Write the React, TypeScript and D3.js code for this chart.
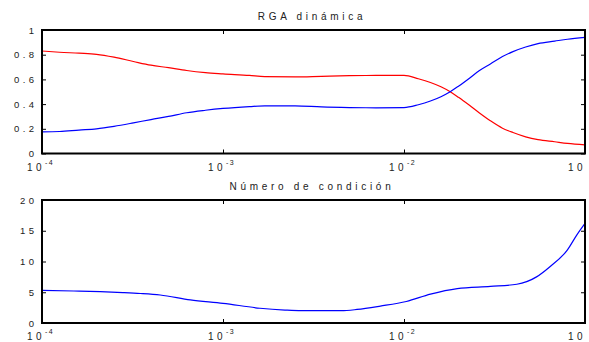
import React, { useEffect, useRef } from "react";
import * as d3 from "d3";

// frequency grid (rad/s), shared by the curves
const freq = [
  1e-4, 1.25e-4, 1.6e-4, 2e-4, 2.5e-4, 3.2e-4, 4e-4, 5e-4, 6.3e-4, 8e-4,
  1e-3, 1.4e-3, 1.7e-3, 2.5e-3, 3.5e-3, 5e-3, 7e-3, 1e-2, 1.2e-2, 1.4e-2,
  1.6e-2, 1.8e-2, 2e-2, 2.3e-2, 2.6e-2, 3e-2, 3.5e-2, 4e-2, 4.7e-2, 5.5e-2,
  6.8e-2, 8e-2, 1e-1,
];

const rgaRed = [
  0.83, 0.82, 0.812, 0.803, 0.78, 0.745, 0.715, 0.695, 0.672, 0.655,
  0.645, 0.632, 0.622, 0.62, 0.625, 0.63, 0.632, 0.632, 0.605, 0.575,
  0.54, 0.5, 0.455, 0.39, 0.33, 0.265, 0.205, 0.17, 0.135, 0.112,
  0.095, 0.082, 0.07,
];

const rgaBlue = [
  0.175, 0.178, 0.19, 0.2, 0.22, 0.248, 0.275, 0.3, 0.33, 0.35,
  0.365, 0.38, 0.386, 0.386, 0.377, 0.372, 0.37, 0.372, 0.395, 0.425,
  0.46, 0.5, 0.545, 0.61, 0.67, 0.725, 0.785, 0.825, 0.862, 0.89,
  0.91, 0.925, 0.94,
];

const condFreq = [
  1e-4, 1.5e-4, 2.1e-4, 2.8e-4, 3.5e-4, 4.5e-4, 6.6e-4, 1e-3, 1.6e-3,
  2.2e-3, 2.7e-3, 3.5e-3, 4.5e-3, 5.5e-3, 7.4e-3, 1.03e-2, 1.4e-2,
  1.97e-2, 3e-2, 4.2e-2, 5.4e-2, 6.4e-2, 8e-2, 9e-2, 1e-1,
];

const condNum = [
  5.3, 5.2, 5.1, 4.95, 4.8, 4.55, 3.75, 3.2, 2.4,
  2.1, 2.0, 2.0, 2.0, 2.2, 2.75, 3.5, 4.7,
  5.6, 5.95, 6.3, 7.5, 9.15, 11.9, 14.3, 16.2,
];

const xTicks = [1e-4, 1e-3, 1e-2, 1e-1];
const rgaTicks = [0, 0.2, 0.4, 0.6, 0.8, 1];
const condTicks = [0, 5, 10, 15, 20];

const W = 589;
const H = 342;
const FONT = "'Liberation Sans', Arial, sans-serif";

function drawPanel(svg, opts) {
  const { top, bottom, domain, ticks, series, title } = opts;
  const x = d3.scaleLog().domain([1e-4, 1e-1]).range([42, 585]);
  const y = d3.scaleLinear().domain(domain).range([bottom, top]);
  const g = svg.append("g");

  g.append("text")
    .attr("x", 312)
    .attr("y", top - 10)
    .attr("text-anchor", "middle")
    .attr("font-size", 10)
    .attr("letter-spacing", 3.7)
    .attr("fill", "#222")
    .text(title);

  series.forEach((s) => {
    const ln = d3
      .line()
      .x((d, i) => x(s.x[i]))
      .y((d) => y(d))
      .curve(d3.curveMonotoneX);
    g.append("path")
      .attr("d", ln(s.values))
      .attr("fill", "none")
      .attr("stroke", s.color)
      .attr("stroke-width", 1.2);
  });

  const tickStyle = (sel) => {
    sel.select(".domain").remove();
    sel.selectAll("line").attr("stroke", "#000").attr("stroke-width", 1);
  };

  g.append("g")
    .attr("transform", `translate(${x.range()[0]},0)`)
    .call(d3.axisLeft(y).tickValues(ticks).tickSize(-4).tickPadding(8).tickFormat((d) => String(d)))
    .call(tickStyle)
    .call((sel) =>
      sel.selectAll("text")
        .attr("font-family", FONT)
        .attr("font-size", 9.5)
        .attr("letter-spacing", 3.4)
        .attr("fill", "#222")
        .attr("dx", 3.4)
    );

  g.append("g")
    .attr("transform", `translate(${x.range()[1]},0)`)
    .call(d3.axisRight(y).tickValues(ticks).tickSize(-4).tickFormat(() => ""))
    .call(tickStyle);

  g.append("g")
    .attr("transform", `translate(0,${top})`)
    .call(d3.axisTop(x).tickValues(xTicks).tickSize(-4).tickFormat(() => ""))
    .call(tickStyle);

  const xb = g.append("g")
    .attr("transform", `translate(0,${bottom})`)
    .call(d3.axisBottom(x).tickValues(xTicks).tickSize(-4).tickFormat(() => ""))
    .call(tickStyle);

  xTicks.forEach((t) => {
    const exp = Math.round(Math.log10(t));
    const last = t === xTicks[xTicks.length - 1];
    const txt = xb.append("text")
      .attr("x", last ? x(t) - 17 : x(t) - 15)
      .attr("y", 17)
      .attr("text-anchor", "start")
      .attr("font-family", FONT)
      .attr("font-size", 10)
      .attr("letter-spacing", 3.4)
      .attr("fill", "#222");
    txt.append("tspan").text("10");
    if (!last) {
      txt.append("tspan")
        .attr("dy", -6)
        .attr("font-size", 7)
        .attr("letter-spacing", 1.5)
        .text(String(exp));
    }
  });

  g.append("rect")
    .attr("x", x.range()[0])
    .attr("y", top)
    .attr("width", x.range()[1] - x.range()[0])
    .attr("height", bottom - top)
    .attr("fill", "none")
    .attr("stroke", "#000")
    .attr("stroke-width", 2);
}

export default function App() {
  const svgRef = useRef(null);

  useEffect(() => {
    const svg = d3.select(svgRef.current);
    svg.selectAll("*").remove();

    drawPanel(svg, {
      top: 30,
      bottom: 153.5,
      domain: [0, 1],
      ticks: rgaTicks,
      title: "RGA dinámica",
      series: [
        { x: freq, values: rgaRed, color: "#ff0000" },
        { x: freq, values: rgaBlue, color: "#0000ff" },
      ],
    });

    drawPanel(svg, {
      top: 200,
      bottom: 323,
      domain: [0, 20],
      ticks: condTicks,
      title: "Número de condición",
      series: [{ x: condFreq, values: condNum, color: "#0000ff" }],
    });
  }, []);

  return (
    <svg
      ref={svgRef}
      width={W}
      height={H}
      style={{ position: "absolute", left: 0, top: 0, background: "#fff", fontFamily: FONT }}
    />
  );
}
